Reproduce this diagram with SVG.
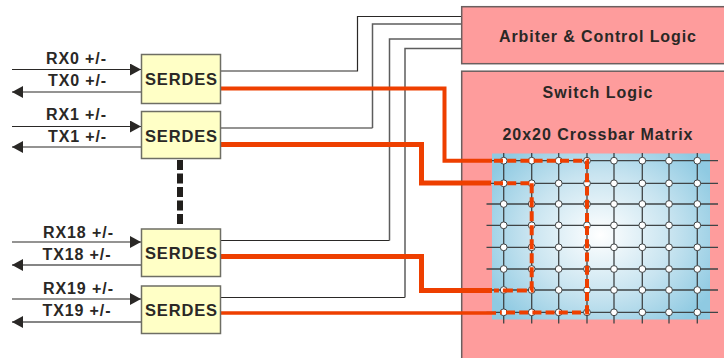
<svg xmlns="http://www.w3.org/2000/svg" xmlns:xlink="http://www.w3.org/1999/xlink" width="724" height="358" viewBox="0 0 724 358">
<style>
text{font-family:"Liberation Sans",Arial,sans-serif;font-weight:bold;fill:#2a2826;text-anchor:middle}
.lbl{font-size:16px}
.ser{font-size:16.5px}
.ttl{font-size:16px}
.serbox{fill:#ffffc6;stroke:#6e6e64;stroke-width:1.5}
.block{fill:#fe9c9c;stroke:#6b5f5f;stroke-width:1.5}
.thin{fill:none;stroke:#2a2826;stroke-width:1.2}
.gray{fill:none;stroke:#5d5d5d;stroke-width:1.5}
.red{fill:none;stroke:#ee3f00;stroke-linejoin:miter}
.grid{stroke:#3f4446;stroke-width:1.3;fill:none}
.cross{fill:#fff;stroke:#3f4446;stroke-width:1}
</style>
<defs>
<marker id="arr" markerUnits="userSpaceOnUse" markerWidth="12" markerHeight="12" refX="11" refY="6" orient="auto-start-reverse"><path d="M0 0L11 6L0 12Z" fill="#2a2826"/></marker>
<radialGradient id="mx" gradientUnits="userSpaceOnUse" cx="600" cy="235" r="130" gradientTransform="translate(600 235) scale(1 0.85) translate(-600 -235)">
<stop offset="0" stop-color="#fff"/><stop offset="0.55" stop-color="#c8e4f0"/><stop offset="1" stop-color="#8fcae2"/></radialGradient>
<g id="row"><circle class="cross" cx="503.7" cy="0" r="3.4"/><circle class="cross" cx="531.7" cy="0" r="3.4"/><circle class="cross" cx="558.7" cy="0" r="3.4"/><circle class="cross" cx="587" cy="0" r="3.4"/><circle class="cross" cx="614" cy="0" r="3.4"/><circle class="cross" cx="642.3" cy="0" r="3.4"/><circle class="cross" cx="669" cy="0" r="3.4"/><circle class="cross" cx="697.3" cy="0" r="3.4"/></g>
</defs>

<g id="arbiter"><rect class="block" x="461.7" y="6.7" width="270" height="57"/><text class="ttl" x="597.5" y="42" textLength="197">Arbiter &amp; Control Logic</text></g>
<g id="switch"><rect class="block" x="461.7" y="71.2" width="270" height="300"/><text class="ttl" x="597.5" y="98" textLength="110">Switch Logic</text><text class="ttl" x="597.5" y="140" textLength="190">20x20 Crossbar Matrix</text></g>
<g id="crossbar">
<rect x="492" y="153.5" width="218" height="166" fill="url(#mx)"/>
<path class="grid" d="M503.7 153V323.5M531.7 153V323.5M558.7 153V323.5M587 153V323.5M614 153V323.5M642.3 153V323.5M669 153V323.5M697.3 153V323.5"/>
<path class="grid" d="M486.5 160.7H718M486.5 183.3H718M486.5 204H718M486.5 225.3H718M486.5 247.3H718M486.5 269H718M486.5 290H718M486.5 312.3H718"/>
<use xlink:href="#row" href="#row" y="160.7"/><use xlink:href="#row" href="#row" y="183.3"/><use xlink:href="#row" href="#row" y="204"/><use xlink:href="#row" href="#row" y="225.3"/><use xlink:href="#row" href="#row" y="247.3"/><use xlink:href="#row" href="#row" y="269"/><use xlink:href="#row" href="#row" y="290"/><use xlink:href="#row" href="#row" y="312.3"/>
</g>

<g id="connectors">
<path class="thin" marker-end="url(#arr)" d="M12 69.5H141"/>
<path class="thin" marker-end="url(#arr)" d="M141 92H12"/>
<path class="thin" marker-end="url(#arr)" d="M12 126.5H141"/>
<path class="thin" marker-end="url(#arr)" d="M141 147H12"/>
<path class="thin" marker-end="url(#arr)" d="M12 242H141"/>
<path class="gray" marker-end="url(#arr)" d="M141 265H12"/>
<path class="thin" marker-end="url(#arr)" d="M12 299H141"/>
<path class="gray" marker-end="url(#arr)" d="M141 322H12"/>
<path d="M180 160V224" fill="none" stroke="#211f1c" stroke-width="6" stroke-dasharray="10 3.5"/>
<path class="thin" d="M221 71H357.5V16.5H461"/>
<path class="thin" d="M221 128H372.5"/>
<path class="gray" d="M372.5 128V24H461"/>
<path class="thin" d="M221 240.5H389.5"/>
<path class="gray" d="M389.5 240.5V39H461"/>
<path class="thin" d="M221 297.5H405"/>
<path class="gray" d="M405 297.5V48.5H461"/>
<path class="red" stroke-width="4" d="M221 88.5H444.5V160.7H492"/>
<path class="red" stroke-width="5" d="M221 144.5H421.5V183H491"/>
<path class="red" stroke-width="5" d="M221 256.5H421.5V290.5H492"/>
<path class="red" stroke-width="3.5" d="M221 313H496"/>
<path class="red" stroke-width="4" stroke-dasharray="9 4.2" d="M494 160.7H587V312.5H500"/>
<path class="red" stroke-width="4" stroke-dasharray="9 4.2" d="M494 183.3H531.7"/>
<path class="red" stroke-width="4" stroke-dasharray="10 4" d="M531.7 183.3V290.5H494"/>
</g>

<g id="serdes0"><rect class="serbox" x="141.5" y="54.5" width="79" height="49"/><text class="ser" x="181" y="85" textLength="72">SERDES</text></g>
<g id="serdes1"><rect class="serbox" x="141.5" y="111.5" width="79" height="47"/><text class="ser" x="181" y="142" textLength="72">SERDES</text></g>
<g id="serdes18"><rect class="serbox" x="141.5" y="229" width="79" height="47.5"/><text class="ser" x="181" y="259.3" textLength="72">SERDES</text></g>
<g id="serdes19"><rect class="serbox" x="141.5" y="286" width="79" height="47.5"/><text class="ser" x="181" y="316" textLength="72">SERDES</text></g>

<g id="labels">
<text class="lbl" x="76" y="64" textLength="60">RX0 +/-</text>
<text class="lbl" x="77" y="86" textLength="58">TX0 +/-</text>
<text class="lbl" x="76" y="120" textLength="60">RX1 +/-</text>
<text class="lbl" x="77" y="142" textLength="58">TX1 +/-</text>
<text class="lbl" x="78" y="238" textLength="70">RX18 +/-</text>
<text class="lbl" x="76.5" y="260" textLength="68">TX18 +/-</text>
<text class="lbl" x="78" y="294" textLength="70">RX19 +/-</text>
<text class="lbl" x="76.5" y="316" textLength="68">TX19 +/-</text>
</g>
</svg>
